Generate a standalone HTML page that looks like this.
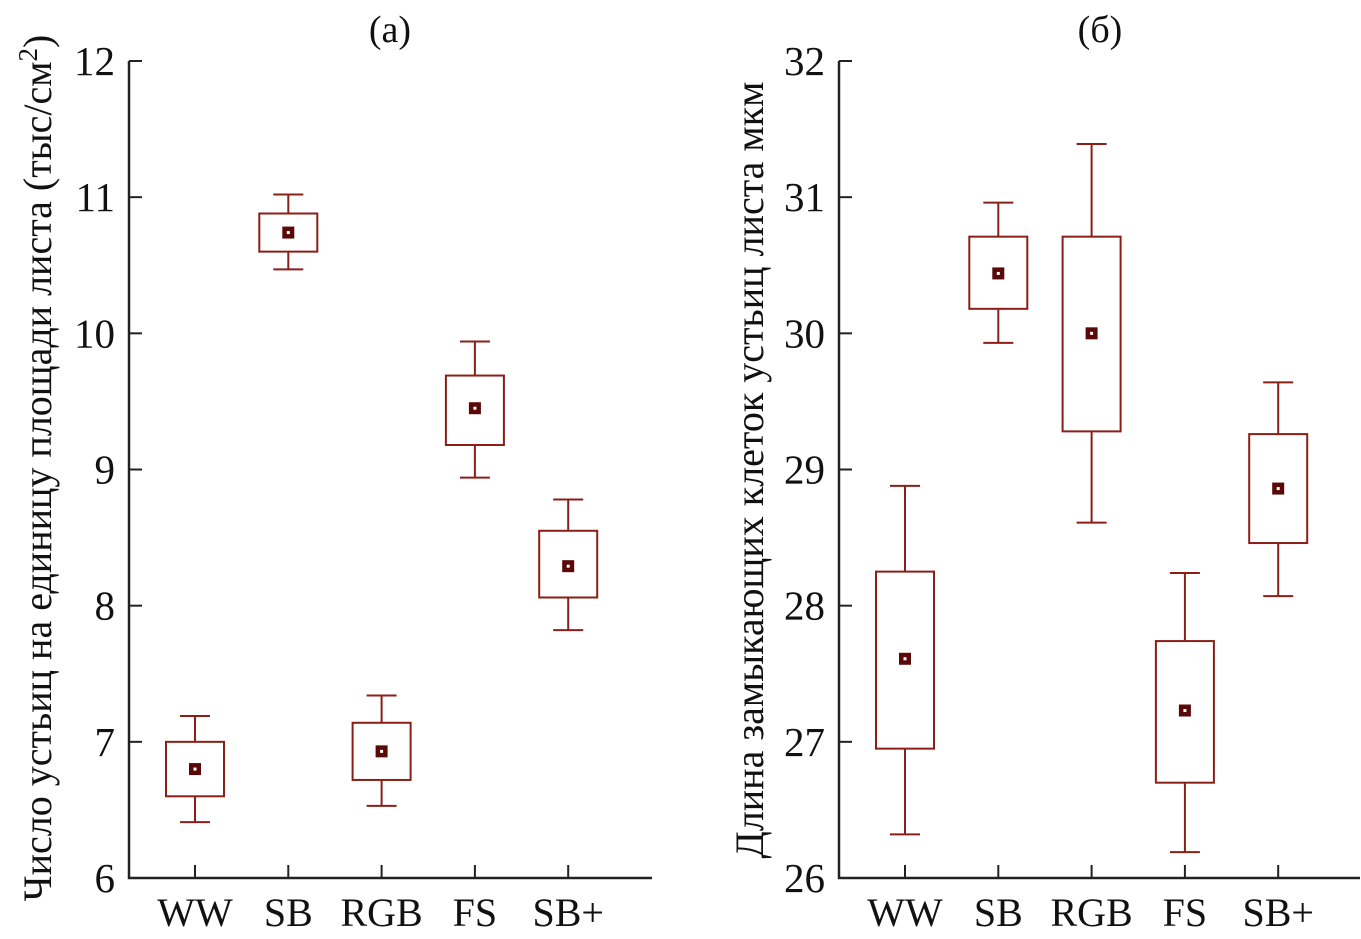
<!DOCTYPE html>
<html><head><meta charset="utf-8">
<style>
html,body{margin:0;padding:0;background:#fff;}
svg{display:block;font-family:"Liberation Serif","DejaVu Serif",serif;}
</style></head>
<body>
<svg id="chart" width="1361" height="939" viewBox="0 0 1361 939"></svg>
<script>
const categories = ["WW","SB","RGB","FS","SB+"];
// panel (a): stomata count
const aWhiskLo = [6.41,10.47,6.53,8.94,7.82];
const aBoxLo   = [6.60,10.60,6.72,9.18,8.06];
const aMean    = [6.80,10.74,6.93,9.45,8.29];
const aBoxHi   = [7.00,10.88,7.14,9.69,8.55];
const aWhiskHi = [7.19,11.02,7.34,9.94,8.78];
const aTicks = [6,7,8,9,10,11,12];
// panel (b): guard cell length
const bWhiskLo = [26.32,29.93,28.61,26.19,28.07];
const bBoxLo   = [26.95,30.18,29.28,26.70,28.46];
const bMean    = [27.61,30.44,30.00,27.23,28.86];
const bBoxHi   = [28.25,30.71,30.71,27.74,29.26];
const bWhiskHi = [28.88,30.96,31.39,28.24,29.64];
const bTicks = [26,27,28,29,30,31,32];

const NS="http://www.w3.org/2000/svg";
const svg=document.getElementById('chart');
function mk(tag,attrs,parent,text){const e=document.createElementNS(NS,tag);for(const k in attrs)e.setAttribute(k,attrs[k]);if(text!==undefined)e.textContent=text;(parent||svg).appendChild(e);return e;}
const C="#8b1f17";

function panel(p){
  const g=mk('g',{});
  
  
  const y=v=>878-(v-p.min)/(p.max-p.min)*817;
  const x=i=>p.x0+66+i*93.3;
  const ax=mk('path',{d:`M${p.x0} 61 V878 H${p.x1}`,stroke:'#222','stroke-width':2.5,fill:'none'},g);
   
  p.ticks.forEach(t=>{
    const tk=mk('line',{x1:p.x0,x2:p.x0+13,y1:y(t),y2:y(t),stroke:'#222','stroke-width':2},g);
     
    const tl=mk('text',{x:p.x0-14,y:y(t)+14,'text-anchor':'end','font-size':41,fill:'#111'},g,String(t));
     
  });
  categories.forEach((c,i)=>{
    const cx=x(i);
    const tk=mk('line',{x1:cx,x2:cx,y1:878,y2:865,stroke:'#222','stroke-width':2},g);
     
    const tl=mk('text',{x:cx,y:926,'text-anchor':'middle','font-size':40,fill:'#111'},g,c);
     
    const bx=mk('g',{},g);
    
    
    mk('line',{x1:cx,x2:cx,y1:y(p.wl[i]),y2:y(p.bl[i]),stroke:C,'stroke-width':2},bx);
    mk('line',{x1:cx,x2:cx,y1:y(p.bh[i]),y2:y(p.wh[i]),stroke:C,'stroke-width':2},bx);
    mk('line',{x1:cx-15,x2:cx+15,y1:y(p.wl[i]),y2:y(p.wl[i]),stroke:C,'stroke-width':2},bx);
    mk('line',{x1:cx-15,x2:cx+15,y1:y(p.wh[i]),y2:y(p.wh[i]),stroke:C,'stroke-width':2},bx);
    mk('rect',{x:cx-29,y:y(p.bh[i]),width:58,height:y(p.bl[i])-y(p.bh[i]),fill:'none',stroke:C,'stroke-width':2},bx);
    mk('rect',{x:cx-6,y:y(p.m[i])-6,width:12,height:12,fill:'#5a0808'},bx);
    mk('rect',{x:cx-1.5,y:y(p.m[i])-1.5,width:3,height:3,fill:'#fff'},bx);
  });
  const tt=mk('text',{x:p.titleX,y:42,'text-anchor':'middle','font-size':38,fill:'#111'},g,p.title);
   
  const yl=mk('text',{x:0,y:0,'text-anchor':'middle','font-size':p.ylfs,fill:'#111',transform:`translate(${p.ylx},${p.ylc}) rotate(-90)`},g);
   
  yl.innerHTML=p.ylabel;
}
panel({name:'panel-a',x0:129,x1:652,min:6,max:12,ticks:aTicks,wl:aWhiskLo,bl:aBoxLo,m:aMean,bh:aBoxHi,wh:aWhiskHi,title:'(a)',titleX:390,ylx:51,ylc:468,ylfs:40,
  ylabel:'Число устьиц на единицу площади листа (тыс/см<tspan dy="-14" font-size="27">2</tspan><tspan dy="14">)</tspan>'});
panel({name:'panel-b',x0:839,x1:1360,min:26,max:32,ticks:bTicks,wl:bWhiskLo,bl:bBoxLo,m:bMean,bh:bBoxHi,wh:bWhiskHi,title:'(б)',titleX:1100,ylx:763,ylc:470,ylfs:40,
  ylabel:'Длина замыкающих клеток устьиц листа мкм'});
</script>
</body></html>
